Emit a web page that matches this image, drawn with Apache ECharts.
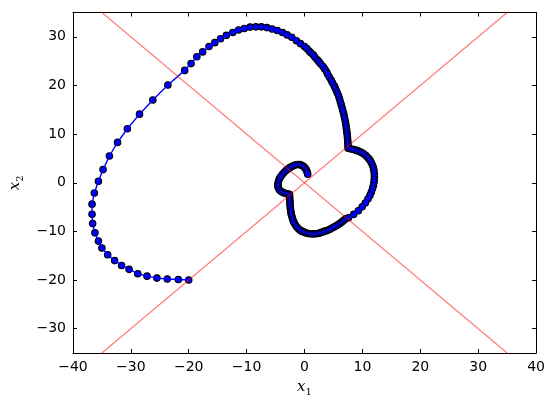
<!DOCTYPE html>
<html><head><meta charset="utf-8">
<script src="https://cdn.jsdelivr.net/npm/echarts@6/dist/echarts.min.js"></script>
<style>html,body{margin:0;padding:0;background:#fff}#c{width:548px;height:411px}</style>
</head><body><div id="c"></div>
<script>
const xTicks = [-40, -30, -20, -10, 0, 10, 20, 30, 40];
const yTicks = [-30, -20, -10, 0, 10, 20, 30];

const outerArc = [[-20.0,-20.0],[-21.8,-19.9],[-23.7,-19.8],[-25.5,-19.6],[-27.2,-19.2],[-28.8,-18.7],[-30.3,-17.8],[-31.6,-17.0],[-32.8,-16.0],[-34.0,-14.8],[-35.0,-13.4],[-35.6,-12.0],[-36.2,-10.3],[-36.6,-8.4],[-36.7,-6.5],[-36.7,-4.4],[-36.3,-2.1],[-35.6,0.3],[-34.8,2.7],[-33.7,5.5],[-32.3,8.3],[-30.6,11.1],[-28.5,14.1],[-26.2,17.0],[-23.6,20.1],[-20.7,23.1],[-19.6,24.5],[-18.6,25.9],[-17.6,26.9],[-16.5,28.0],[-15.5,28.8],[-14.5,29.6],[-13.5,30.3],[-12.4,30.9],[-11.4,31.4],[-10.4,31.7],[-9.4,32.0],[-8.4,32.05],[-7.45,32.05],[-6.5,31.9],[-5.6,31.6],[-4.7,31.3],[-3.8,30.9],[-3.0,30.4],[-2.2,29.9],[-1.4,29.2],[-0.7,28.6]];

const descent = [[0.0,28.0],[0.4,27.6],[0.8,27.1],[1.1,26.7],[1.5,26.3],[1.8,25.8],[2.2,25.3],[2.5,24.9],[2.8,24.4],[3.2,23.9],[3.5,23.4],[3.8,22.8],[4.0,22.3],[4.3,21.7],[4.6,21.1],[4.8,20.6],[5.1,20.0],[5.3,19.5],[5.5,18.9],[5.7,18.4],[5.9,17.8],[6.05,17.2],[6.2,16.6],[6.35,16.0],[6.5,15.4],[6.6,14.9],[6.75,14.3],[6.85,13.7],[6.95,13.2],[7.05,12.6],[7.12,12.1],[7.2,11.5],[7.25,11.0],[7.3,10.5],[7.37,10.0],[7.41,9.5],[7.44,9.0],[7.47,8.5],[7.5,8.0],[7.52,7.5],[7.53,7.1]];

const rightLobe = [[7.9,7.0],[8.3,6.9],[8.7,6.75],[9.1,6.6],[9.5,6.4],[9.85,6.2],[10.2,5.95],[10.55,5.65],[10.85,5.3],[11.1,4.95],[11.35,4.55],[11.55,4.1],[11.75,3.6],[11.9,3.05],[12.0,2.5],[12.05,1.9],[12.07,1.3],[12.05,0.7],[12.0,0.1],[11.9,-0.55],[11.75,-1.2],[11.55,-1.9],[11.3,-2.6],[10.95,-3.35],[10.5,-4.15],[9.95,-4.95],[9.3,-5.75],[8.5,-6.5],[7.6,-7.2]];

const lowerLoop = [[7.1,-7.4],[6.8,-7.7],[6.5,-8.0],[6.2,-8.3],[5.95,-8.5],[5.7,-8.7],[5.4,-8.9],[5.1,-9.1],[4.75,-9.3],[4.4,-9.55],[4.0,-9.75],[3.65,-9.9],[3.3,-10.05],[2.95,-10.2],[2.6,-10.35],[2.3,-10.42],[1.95,-10.47],[1.6,-10.5],[1.3,-10.5],[0.95,-10.47],[0.63,-10.42],[0.3,-10.32],[0.0,-10.2],[-0.3,-10.05],[-0.55,-9.9],[-0.8,-9.7],[-1.05,-9.45],[-1.3,-9.15],[-1.5,-8.8],[-1.75,-8.35],[-1.9,-7.95],[-2.05,-7.5],[-2.15,-7.05],[-2.25,-6.65],[-2.32,-6.25],[-2.38,-5.85],[-2.42,-5.45],[-2.46,-5.05],[-2.49,-4.65],[-2.51,-4.25],[-2.53,-3.85],[-2.55,-3.45],[-2.57,-3.05],[-2.59,-2.7],[-2.6,-2.4]];

const innerHook = [[-2.9,-2.3],[-3.2,-2.2],[-3.5,-2.1],[-3.8,-1.95],[-4.1,-1.75],[-4.35,-1.45],[-4.5,-1.1],[-4.6,-0.7],[-4.6,-0.3],[-4.55,0.1],[-4.45,0.5],[-4.3,0.9],[-4.1,1.3],[-3.85,1.7],[-3.55,2.1],[-3.25,2.45],[-2.9,2.8],[-2.55,3.1],[-2.2,3.35],[-1.85,3.55],[-1.5,3.7],[-1.15,3.75],[-0.8,3.72],[-0.5,3.6],[-0.2,3.4],[0.05,3.1],[0.25,2.75],[0.4,2.4],[0.5,2.05],[0.55,1.75]];

const trajectory = outerArc.concat(descent, rightLobe, lowerLoop, innerHook);

const switchX = [-40, 40];
const diagUp = [-40, 40];
const diagDown = [40, -40];

const fmt = v => (v < 0 ? '\u2212' + (-v) : String(v));
const labelFont = {color: '#000', fontSize: 14, fontFamily: 'DejaVu Sans'};
const nameRich = {
  i: {fontFamily: 'DejaVu Serif', fontStyle: 'italic', fontSize: 15, color: '#000', lineHeight: 20, verticalAlign: 'middle'},
  s: {fontFamily: 'DejaVu Serif', fontSize: 10, color: '#000', lineHeight: 20, verticalAlign: 'bottom'}
};

function mkAxis(min, max, ticks, pos, show, extra) {
  return Object.assign({
    type: 'value', min: min, max: max, position: pos,
    axisLine: {show: true, onZero: false, lineStyle: {color: '#000', width: 1}},
    axisTick: {show: true, inside: true, length: 4, customValues: ticks, lineStyle: {color: '#000', width: 1}},
    axisLabel: Object.assign({show: show, customValues: ticks, formatter: fmt, margin: 7}, labelFont),
    splitLine: {show: false}
  }, extra || {});
}

const chart = echarts.init(document.getElementById('c'), null, {renderer: 'canvas'});
chart.setOption({
  animation: false,
  backgroundColor: '#fff',
  grid: {left: 66, right: 11, top: 12.5, bottom: 58},
  xAxis: [
    mkAxis(-40, 40, xTicks, 'bottom', true, {name: '{i|x}{s|1}', nameLocation: 'middle', nameGap: 24, nameTextStyle: {rich: nameRich}}),
    mkAxis(-40, 40, xTicks, 'top', false)
  ],
  yAxis: [
    mkAxis(-35, 35, yTicks, 'left', true, {name: '{i|x}{s|2}', nameLocation: 'middle', nameGap: 42, nameTextStyle: {rich: nameRich}}),
    mkAxis(-35, 35, yTicks, 'right', false)
  ],
  series: [
    {
      type: 'scatter', xAxisIndex: 0, yAxisIndex: 0, data: trajectory,
      symbol: 'circle', symbolSize: 6.5,
      itemStyle: {color: '#0000ff', borderColor: '#000', borderWidth: 1.1, opacity: 1},
      emphasis: {disabled: true}, silent: true, z: 2
    },
    {
      type: 'line', xAxisIndex: 0, yAxisIndex: 0, data: trajectory,
      symbol: 'none', lineStyle: {color: '#0000ff', width: 1.4},
      emphasis: {disabled: true}, silent: true, z: 3
    },
    {
      type: 'line', xAxisIndex: 0, yAxisIndex: 0, data: switchX.map((x, i) => [x, diagUp[i]]),
      symbol: 'none', lineStyle: {color: 'rgba(255,0,0,0.5)', width: 1.3}, silent: true, z: 4
    },
    {
      type: 'line', xAxisIndex: 0, yAxisIndex: 0, data: switchX.map((x, i) => [x, diagDown[i]]),
      symbol: 'none', lineStyle: {color: 'rgba(255,0,0,0.5)', width: 1.3}, silent: true, z: 4
    }
  ]
});
</script>
</body></html>
